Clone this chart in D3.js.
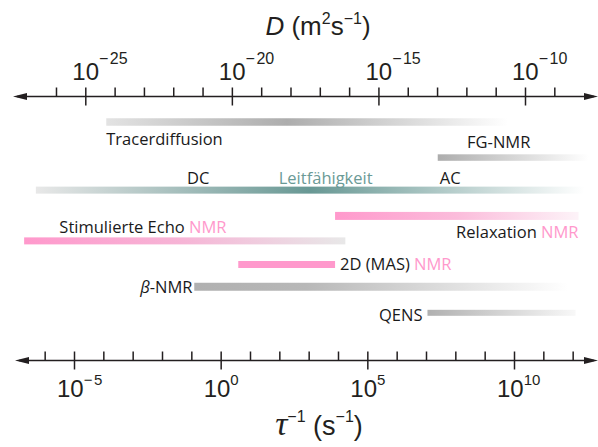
<!DOCTYPE html>
<html>
<head>
<meta charset="utf-8">
<script src="https://cdn.jsdelivr.net/npm/d3@7"></script>
<style>
  body { margin: 0; background: #fff; }
  .lbl { font-family: "Open Sans", sans-serif; font-size: 16.5px; fill: #1a1a1a; }
  .ax { font-family: "Liberation Sans", Arial, sans-serif; fill: #231f20; }
</style>
</head>
<body>
<div id="chart"></div>
<script>
// exponents (log10) on the two axes
const dMajor = [-25, -20, -15, -10]
const dMinor = d3.range(-26, -8)
const rateMajor = [-5, 0, 5, 10]
const rateMinor = d3.range(-6, 13)

// methods: range in log10(tau^-1) and row level
const methods = ['Tracerdiffusion', 'FG-NMR', 'Leitfähigkeit', 'Relaxation NMR', 'Stimulierte Echo NMR', '2D (MAS) NMR', 'β-NMR', 'QENS']
const rangeFrom = [-3.9, 7.4, -6.3, 3.9, -6.7, 0.6, -0.9, 7.05]
const rangeTo = [9.8, 12.55, 12.4, 12.2, 4.25, 3.9, 11.85, 12.1]
const rowLevel = [0, 1.31, 2.51, 3.46, 4.38, 5.25, 6.07, 7.03]

// labels: text parts, anchor value on the rate axis, row level of baseline
const labelParts = [['Tracerdiffusion'], ['FG-NMR'], ['DC'], ['Leitfähigkeit'], ['AC'], ['Relaxation ', 'NMR'], ['Stimulierte Echo ', 'NMR'], ['2D (MAS) ', 'NMR'], ['β', '-NMR'], ['QENS']]
const labelAt = [-3.9, 8.4, -1.15, 1.98, 7.47, 12.2, -5.5, 4.07, -0.96, 6.88]
const labelLevel = [0.85, 0.96, 2.28, 2.28, 2.28, 4.29, 4.08, 5.45, 6.29, 7.32]

const width = 598
const height = 447
const pink = '#ff99cc'
const teal = '#6b9a96'

const gradients = {
  'Tracerdiffusion': [[0, '#e3e3e3'], [0.45, '#adadad'], [1, '#ffffff']],
  'FG-NMR': [[0, '#adadad'], [1, '#ffffff']],
  'Leitfähigkeit': [[0, '#e8e8e8'], [0.5, '#689894'], [1, '#ffffff']],
  'Relaxation NMR': [[0, pink], [0.5, '#fbbcdb'], [1, '#fdf3f8']],
  'Stimulierte Echo NMR': [[0, pink], [0.5, '#f6b5d6'], [1, '#e8e8e8']],
  '2D (MAS) NMR': [[0, pink], [1, pink]],
  'β-NMR': [[0, '#b0b0b0'], [0.3, '#b8b8b8'], [1, '#ffffff']],
  'QENS': [[0, '#b0b0b0'], [1, '#f8f8f8']],
}
const barHeight = [7.5, 6.5, 7, 8, 7, 7, 8, 6]

const svg = d3.select('#chart').append('svg').attr('width', width).attr('height', height)
const defs = svg.append('defs')

const xTop = d3.scaleLinear().domain([-25, -10]).range([85.3, 525])
const xBot = d3.scaleLinear().domain([-5, 10]).range([74, 514])
const y = d3.scaleLinear().domain([0, 7]).range([122, 312])

const topY = 96.5
const botY = 360.5

function drawAxis(scale, major, minor, yPos, xStart) {
  const g = svg.append('g').attr('transform', `translate(0, ${yPos})`)
  g.append('line').attr('x1', xStart + 4).attr('x2', width - 4)
    .attr('stroke', '#231f20').attr('stroke-width', 1.6)
  g.append('path').attr('d', `M${xStart},0 L${xStart + 14},-3.6 L${xStart + 14},3.6 Z`).attr('fill', '#231f20')
  g.append('path').attr('d', `M${width},0 L${width - 14},-3.6 L${width - 14},3.6 Z`).attr('fill', '#231f20')
  const minorAxis = d3.axisTop(scale).tickValues(minor.filter(v => !major.includes(v))).tickSize(9).tickFormat('')
  const majorAxis = d3.axisTop(scale).tickValues(major).tickSize(9).tickFormat('')
  const gm = g.append('g').call(minorAxis)
  const gM = g.append('g').call(majorAxis)
  ;[gm, gM].forEach(s => {
    s.select('.domain').remove()
    s.selectAll('line').attr('stroke', '#231f20').attr('stroke-width', 1.5)
  })
  gM.selectAll('line').attr('y1', 9)
  return g
}

drawAxis(xTop, dMajor, dMinor, topY, 13)
drawAxis(xBot, rateMajor, rateMinor, botY, 15)

function powLabels(scale, vals, baseY, dx, supRaise, supSize) {
  vals.forEach(v => {
    const t = svg.append('text').attr('class', 'ax').attr('x', scale(v) + dx).attr('y', baseY)
    t.append('tspan').attr('font-size', 24).text('10')
    if (v < 0) {
      t.append('tspan').attr('font-size', supSize).attr('dy', -supRaise).text('−')
      t.append('tspan').attr('font-size', supSize).attr('dx', 1.5).text(-v)
    } else {
      t.append('tspan').attr('font-size', supSize).attr('dy', -supRaise).text(v)
    }
  })
}
powLabels(xTop, dMajor, 80, -13, 16, 16)
powLabels(xBot, rateMajor, 396.5, -17, 11.5, 15)

// axis titles
const t1 = svg.append('text').attr('class', 'ax').attr('x', 318).attr('y', 35)
  .attr('text-anchor', 'middle').attr('font-size', 26)
t1.append('tspan').attr('font-style', 'italic').text('D')
t1.append('tspan').text(' (m')
t1.append('tspan').attr('font-size', 16).attr('dy', -11).text('2')
t1.append('tspan').attr('dy', 11).text('s')
t1.append('tspan').attr('font-size', 16).attr('dy', -11).text('−1')
t1.append('tspan').attr('dy', 11).text(')')

const t2 = svg.append('text').attr('class', 'ax').attr('x', 319).attr('y', 435)
  .attr('text-anchor', 'middle').attr('font-size', 27)
t2.append('tspan').attr('font-family', '"Liberation Serif", serif').attr('font-style', 'italic').attr('font-size', 34).text('τ')
t2.append('tspan').attr('font-size', 16).attr('dy', -13).text('−1')
t2.append('tspan').attr('dy', 13).text(' (s')
t2.append('tspan').attr('font-size', 16).attr('dy', -13).text('−1')
t2.append('tspan').attr('dy', 13).text(')')

// bars
methods.forEach((m, i) => {
  const grad = defs.append('linearGradient').attr('id', 'g' + i)
  gradients[m].forEach(([o, c]) => grad.append('stop').attr('offset', o).attr('stop-color', c))
})

svg.append('g').selectAll('rect').data(methods).join('rect')
  .attr('x', (d, i) => xBot(rangeFrom[i]))
  .attr('width', (d, i) => xBot(rangeTo[i]) - xBot(rangeFrom[i]))
  .attr('y', (d, i) => y(rowLevel[i]) - barHeight[i] / 2)
  .attr('height', (d, i) => barHeight[i])
  .attr('fill', (d, i) => `url(#g${i})`)

// labels
const endAnchored = ['Relaxation ', 'β', 'QENS']
labelParts.forEach((parts, i) => {
  const t = svg.append('text').attr('class', 'lbl')
    .attr('x', xBot(labelAt[i])).attr('y', y(labelLevel[i]))
    .attr('text-anchor', endAnchored.includes(parts[0]) ? 'end' : 'start')
  parts.forEach(p => {
    const s = t.append('tspan').text(p)
    if (p === 'NMR') s.attr('fill', pink)
    if (p === 'Leitfähigkeit') s.attr('fill', teal)
    if (p === 'β') s.attr('font-style', 'italic')
  })
})
</script>
</body>
</html>
